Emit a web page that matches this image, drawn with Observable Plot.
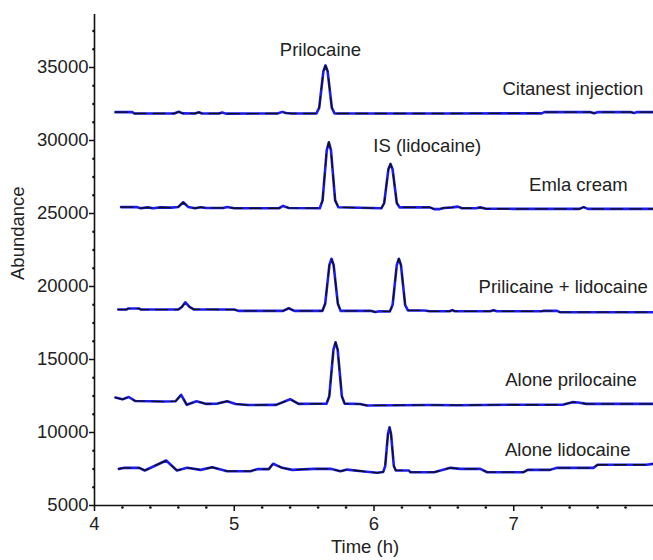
<!DOCTYPE html>
<html>
<head>
<meta charset="utf-8">
<script src="https://cdn.jsdelivr.net/npm/d3@7"></script>
<script src="https://cdn.jsdelivr.net/npm/@observablehq/plot@0.6"></script>
<style>
  html, body { margin: 0; padding: 0; background: #fff; }
  #chart svg { display: block; overflow: visible; }
</style>
</head>
<body>
<div id="chart"></div>
<script>
// Axis ticks
const xMajor = [4, 5, 6, 7];
const xMinor = [4.2, 4.4, 4.6, 4.8, 5.2, 5.4, 5.6, 5.8, 6.2, 6.4, 6.6, 6.8, 7.2, 7.4, 7.6, 7.8];
const yMajor = [5000, 10000, 15000, 20000, 25000, 30000, 35000];
const yMinor = [6250, 7500, 8750, 11250, 12500, 13750, 16250, 17500, 18750, 21250, 22500, 23750,
                26250, 27500, 28750, 31250, 32500, 33750, 36250, 37500];

// Traces: [time (h), abundance]
const citanest = [
  [4.15,31940],[4.27,31940],[4.285,31850],[4.57,31850],[4.603,31970],[4.63,31860],[4.72,31850],
  [4.746,31930],[4.77,31850],[4.89,31850],[4.914,31920],[4.94,31840],[5.31,31850],[5.343,31960],
  [5.37,31880],[5.41,31850],[5.588,31850],[5.608,32250],[5.623,33500],[5.638,34750],[5.653,35140],
  [5.668,34750],[5.683,33500],[5.698,32250],[5.718,31850],[6.5,31850],[7.2,31860],[7.22,31940],
  [7.55,31940],[7.575,31870],[7.6,31940],[7.84,31940],[7.86,31890],[7.88,31940],[8.0,31940]
];
const emla = [
  [4.19,25440],[4.3,25440],[4.33,25360],[4.38,25420],[4.42,25360],[4.47,25420],[4.55,25400],
  [4.6,25450],[4.635,25770],[4.67,25450],[4.72,25360],[4.76,25430],[4.8,25380],[4.92,25380],
  [4.95,25440],[5.0,25360],[5.32,25360],[5.35,25520],[5.39,25380],[5.612,25360],[5.632,25900],
  [5.647,27620],[5.662,29340],[5.677,29880],[5.692,29340],[5.707,27620],[5.722,25900],[5.745,25430],
  [6.053,25360],[6.073,25720],[6.088,26880],[6.103,28030],[6.118,28400],[6.133,28030],[6.148,26880],
  [6.163,25720],[6.183,25420],[6.4,25420],[6.43,25300],[6.47,25300],[6.5,25380],[6.56,25420],
  [6.6,25470],[6.63,25360],[6.73,25360],[6.76,25420],[6.8,25330],[7.0,25320],[7.47,25320],
  [7.5,25440],[7.53,25320],[8.0,25320]
];
const priloLido = [
  [4.17,18420],[4.23,18420],[4.24,18490],[4.32,18490],[4.33,18420],[4.6,18420],[4.625,18600],
  [4.65,18920],[4.68,18600],[4.71,18430],[5.0,18420],[5.03,18330],[5.35,18330],[5.39,18510],
  [5.43,18330],[5.631,18330],[5.651,18840],[5.666,20160],[5.681,21480],[5.696,21900],[5.711,21480],
  [5.726,20160],[5.741,18840],[5.761,18330],[5.98,18330],[6.01,18250],[6.04,18300],[6.113,18290],
  [6.133,18730],[6.148,20100],[6.163,21470],[6.178,21900],[6.193,21470],[6.208,20100],[6.223,18730],
  [6.243,18360],[6.36,18360],[6.4,18300],[6.54,18300],[6.56,18380],[6.58,18300],[6.83,18300],
  [6.855,18380],[6.88,18300],[7.2,18300],[7.21,18330],[7.31,18330],[7.33,18240],[8.0,18240]
];
const alonePrilo = [
  [4.15,12390],[4.2,12270],[4.245,12430],[4.29,12160],[4.5,12120],[4.58,12140],[4.62,12580],
  [4.66,11900],[4.73,12140],[4.8,11960],[4.88,11980],[4.95,12140],[5.01,11950],[5.1,11880],
  [5.3,11890],[5.4,12280],[5.46,11960],[5.6,11970],[5.66,11970],[5.68,12480],[5.695,14080],
  [5.71,15670],[5.725,16180],[5.74,15670],[5.755,14080],[5.77,12480],[5.79,11980],[5.9,11950],
  [5.95,11850],[6.4,11880],[6.6,11870],[7.0,11900],[7.35,11900],[7.42,12080],[7.46,12060],
  [7.52,11960],[8.0,11960]
];
const aloneLido = [
  [4.174,7510],[4.215,7580],[4.32,7580],[4.36,7400],[4.513,8080],[4.59,7400],[4.663,7580],
  [4.759,7440],[4.842,7620],[4.95,7350],[5.116,7350],[5.164,7490],[5.247,7490],[5.278,7860],
  [5.343,7580],[5.414,7440],[5.57,7510],[5.69,7510],[5.76,7350],[5.808,7460],[5.93,7330],
  [6.023,7240],[6.066,7300],[6.08,7700],[6.09,8800],[6.1,9900],[6.111,10360],[6.122,9900],
  [6.132,8800],[6.142,7700],[6.156,7400],[6.25,7400],[6.26,7280],[6.43,7280],[6.547,7580],
  [6.62,7510],[6.76,7510],[6.81,7280],[7.07,7280],[7.1,7440],[7.26,7440],[7.31,7580],
  [7.57,7580],[7.6,7790],[7.95,7790],[8.0,7860]
];

// Annotations
const labelText = ["Prilocaine", "Citanest injection", "IS (lidocaine)", "Emla cream",
                   "Prilicaine + lidocaine", "Alone prilocaine", "Alone lidocaine"];
const labelTime = [5.617, 7.927, 6.381, 7.816, 7.959, 7.881, 7.835];
const labelAbundance = [36160, 33540, 29590, 26920, 19950, 13560, 8770];
const labelAnchor = ["middle", "end", "middle", "end", "end", "end", "end"];

const traces = [citanest, emla, priloLido, alonePrilo, aloneLido];
const labels = labelText.map((t, i) => ({text: t, x: labelTime[i], y: labelAbundance[i], anchor: labelAnchor[i]}));

const blue = "#1c1cf0";
const ink = "#111111";
const textColor = "#222222";
const font = "'Liberation Sans', Arial, Helvetica, sans-serif";
const fs = 18.5;

const lineMarks = [];
for (const tr of traces) {
  lineMarks.push(Plot.line(tr, {x: d => d[0], y: d => d[1], stroke: blue, strokeWidth: 2.6, curve: "linear"}));
}
for (const tr of traces) {
  lineMarks.push(Plot.line(tr, {x: d => d[0], y: d => d[1], stroke: ink, strokeWidth: 1.3, strokeDasharray: "12 7", curve: "linear"}));
}

const chart = Plot.plot({
  width: 653,
  height: 560,
  marginLeft: 94,
  marginRight: 0,
  marginTop: 14,
  marginBottom: 55,
  style: {fontFamily: font, fontSize: "18px", color: textColor, background: "#fff", overflow: "visible"},
  x: {domain: [4, 8]},
  y: {domain: [5000, 38630]},
  marks: [
    ...lineMarks,
    Plot.ruleX([4], {stroke: ink, strokeWidth: 1.6}),
    Plot.ruleY([5000], {stroke: ink, strokeWidth: 1.6}),
    Plot.axisX({ticks: xMajor, tickSize: 6, tickFormat: () => "", label: null, stroke: ink, strokeWidth: 1.5}),
    Plot.axisY({ticks: yMajor, tickSize: 5, tickFormat: () => "", label: null, stroke: ink, strokeWidth: 1.5}),
    Plot.text(xMajor, {x: d => d, y: 5000, text: d => String(d), dy: 19, fontSize: fs, fill: textColor}),
    Plot.text(yMajor, {x: 4, y: d => d, text: d => String(d), textAnchor: "end", dx: -6, fontSize: fs, fill: textColor}),
    Plot.dot(xMinor, {x: d => d, y: 5000, r: 1.3, fill: ink, dy: 2}),
    Plot.dot(yMinor, {x: 4, y: d => d, r: 1.3, fill: ink, dx: -1}),
    Plot.text(labels, {filter: d => d.anchor === "middle", x: "x", y: "y", text: "text", textAnchor: "middle", fontSize: fs, fill: textColor}),
    Plot.text(labels, {filter: d => d.anchor === "end", x: "x", y: "y", text: "text", textAnchor: "end", fontSize: fs, fill: textColor}),
    Plot.text(["Abundance"], {frameAnchor: "left", rotate: -90, dx: -76, dy: 20, fontSize: fs, fill: textColor}),
    Plot.text(["Time (h)"], {frameAnchor: "bottom", dx: -9, dy: 47, fontSize: fs, fill: textColor})
  ]
});
document.getElementById("chart").appendChild(chart);
</script>
</body>
</html>
